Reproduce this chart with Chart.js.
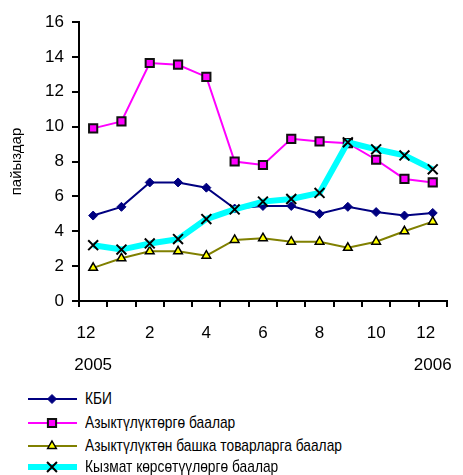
<!DOCTYPE html>
<html><head><meta charset="utf-8">
<script src="https://cdn.jsdelivr.net/npm/chart.js@4.4.0/dist/chart.umd.min.js"></script>
<style>
html,body{margin:0;padding:0;background:#fff;}
#wrap{position:relative;width:463px;height:475px;overflow:hidden;background:#fff;}
#c{position:absolute;left:0;top:0;width:463px;height:380px;}
.row{position:absolute;left:0;height:22px;width:463px;}
.row canvas{position:absolute;left:24px;top:0;}
.row span{position:absolute;left:85px;top:0;line-height:22px;font-family:"Liberation Sans Narrow","Arial Narrow","Liberation Sans",Arial,sans-serif;font-size:17px;color:#000;white-space:nowrap;transform:scaleX(0.81);transform-origin:0 50%;}
</style></head><body>
<div id="wrap"><canvas id="c" width="463" height="380"></canvas><div id="legend"></div></div>
<script>
const monthLabels = ['12','1','2','3','4','5','6','7','8','9','10','11','12'];
const yearLabels  = ['2005','','','','','','','','','','','','2006'];
const seriesNames = ['КБИ','Азыктүлүктөргө баалар','Азыктүлүктөн башка товарларга баалар','Кызмат көрсөтүүлөргө баалар'];
const kbi      = [4.9, 5.4, 6.8, 6.8, 6.5, 5.3, 5.45, 5.45, 5.0, 5.4, 5.1, 4.9, 5.05];
const food     = [9.9, 10.3, 13.65, 13.55, 12.85, 8.0, 7.8, 9.3, 9.15, 9.05, 8.1, 7.0, 6.8];
const nonFood  = [1.9, 2.45, 2.85, 2.85, 2.6, 3.5, 3.6, 3.4, 3.4, 3.05, 3.4, 4.0, 4.55];
const services = [3.2, 2.95, 3.3, 3.55, 4.7, 5.25, 5.7, 5.85, 6.2, 9.1, 8.7, 8.35, 7.55];
const yTitle = 'пайыздар';

const FONT = '"Liberation Sans Narrow","Arial Narrow","Liberation Sans",Arial,sans-serif';

const styles = [
  {color:'#000080', width:2, point:'rectRot', r:4.5, fill:'#000080', border:'#000080', bw:1, order:4},
  {color:'#FF00FF', width:2, point:'rect', r:5.8, fill:'#FF00FF', border:'#111111', bw:2, order:3},
  {color:'#808000', width:2, point:'triangle', r:5, fill:'#FFFF00', border:'#000000', bw:1.5, order:2},
  {color:'#00FFFF', width:6, point:'crossRot', r:7, fill:'#000000', border:'#000000', bw:2, order:1}
];
const values = [kbi, food, nonFood, services];

const datasets = values.map((v,i)=>({
  label: seriesNames[i],
  data: v,
  borderColor: styles[i].color,
  borderWidth: styles[i].width,
  pointStyle: styles[i].point,
  pointRadius: styles[i].r,
  pointHoverRadius: styles[i].r,
  pointBackgroundColor: styles[i].fill,
  pointBorderColor: styles[i].border,
  pointBorderWidth: styles[i].bw,
  tension: 0,
  fill: false,
  order: styles[i].order
}));

new Chart(document.getElementById('c'), {
  type: 'line',
  data: { labels: monthLabels, datasets },
  options: {
    responsive: false,
    animation: false,
    layout: { padding: { top: 22, right: 4, left: 0, bottom: 0 } },
    plugins: { legend: { display: false }, tooltip: { enabled: false } },
    scales: {
      x: {
        offset: true,
        grid: { display: true, drawOnChartArea: false, offset: true, tickLength: 6, color: '#000', lineWidth: 2 },
        border: { display: true, color: '#000', width: 2 },
        ticks: {
          autoSkip: false, maxRotation: 0, minRotation: 0, padding: 11, color: '#000',
          font: { family: FONT, size: 17, lineHeight: 1.85 },
          callback: function(val, idx) {
            if (idx % 2 !== 0) return '';
            const m = monthLabels[idx] === '12' ? monthLabels[idx] + '   ' : monthLabels[idx];
            return [m, yearLabels[idx]];
          }
        },
        afterFit: function(s){ s.height = 79; }
      },
      y: {
        min: 0, max: 16,
        grid: { display: true, drawOnChartArea: false, tickLength: 7, color: '#000', lineWidth: 2 },
        border: { display: true, color: '#000', width: 2 },
        ticks: { stepSize: 2, padding: 8, color: '#000', font: { family: FONT, size: 17 } },
        title: { display: true, text: yTitle, color: '#000', padding: { top: 8, bottom: 0 }, font: { family: FONT, size: 15, lineHeight: 1.2 } },
        afterFit: function(s){ s.width = 79; }
      }
    }
  }
});

// HTML legend
const rowY = [399, 423, 446, 467];
const leg = document.getElementById('legend');
function drawMarker(ctx, st, x, y){
  ctx.save();
  ctx.fillStyle = st.fill; ctx.strokeStyle = st.border; ctx.lineWidth = st.bw;
  const r = st.r;
  ctx.beginPath();
  if (st.point === 'rectRot') {
    ctx.moveTo(x, y-r); ctx.lineTo(x+r, y); ctx.lineTo(x, y+r); ctx.lineTo(x-r, y); ctx.closePath();
    ctx.fill(); ctx.stroke();
  } else if (st.point === 'rect') {
    const s = r*Math.SQRT1_2; ctx.rect(x-s, y-s, 2*s, 2*s); ctx.fill(); ctx.stroke();
  } else if (st.point === 'triangle') {
    const h = r; ctx.moveTo(x, y-h); ctx.lineTo(x+h*0.866, y+h*0.5); ctx.lineTo(x-h*0.866, y+h*0.5); ctx.closePath();
    ctx.fill(); ctx.stroke();
  } else {
    const s = r*Math.SQRT1_2; ctx.moveTo(x-s, y-s); ctx.lineTo(x+s, y+s); ctx.moveTo(x+s, y-s); ctx.lineTo(x-s, y+s); ctx.stroke();
  }
  ctx.restore();
}
seriesNames.forEach((name,i)=>{
  const row = document.createElement('div');
  row.className = 'row';
  row.style.top = (rowY[i]-11) + 'px';
  const cv = document.createElement('canvas');
  cv.width = 58; cv.height = 22;
  const ctx = cv.getContext('2d');
  ctx.strokeStyle = styles[i].color; ctx.lineWidth = styles[i].width;
  ctx.beginPath(); ctx.moveTo(4, 11); ctx.lineTo(53, 11); ctx.stroke();
  drawMarker(ctx, styles[i], 28, 11);
  row.appendChild(cv);
  const sp = document.createElement('span');
  sp.textContent = name;
  row.appendChild(sp);
  leg.appendChild(row);
});
</script>
</body></html>
